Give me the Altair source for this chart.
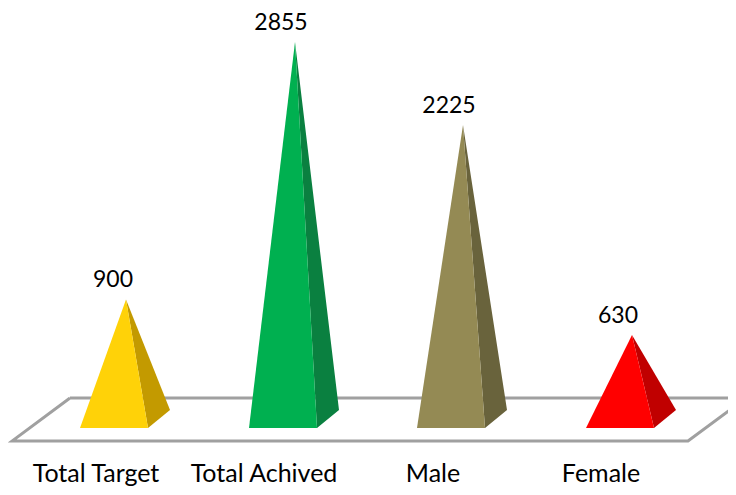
import altair as alt
import pandas as pd

categories = ["Total Target", "Total Achived", "Male", "Female"]
values = [900, 2855, 2225, 630]
apex_x = [126, 295, 463, 632]
label_x = [96, 264, 433, 601]
value_label_x = [113, 281, 449, 618]
front_colors = ["#FFD208", "#00B050", "#948A54", "#FF0000"]
side_colors = ["#C39A00", "#0A8040", "#69633C", "#C00000"]

BASE_FRONT = -76     # depth of the pyramid's front edge, in value units
BASE_BACK = 61       # depth of its back corner
LEFT, RIGHT, BACK = -46, 22, 44

front_rows, side_rows = [], []
for c, v, ax, fc, sc in zip(categories, values, apex_x, front_colors, side_colors):
    front_rows += [
        dict(c=c, x=ax + LEFT, y=BASE_FRONT, y2=BASE_FRONT, fill=fc),
        dict(c=c, x=ax, y=v, y2=BASE_FRONT, fill=fc),
        dict(c=c, x=ax + RIGHT, y=BASE_FRONT, y2=BASE_FRONT, fill=fc),
    ]
    upper_mid = v + (BASE_BACK - v) * RIGHT / BACK
    lower_mid = BASE_FRONT
    side_rows += [
        dict(c=c, x=ax, y=v, y2=v, fill=sc),
        dict(c=c, x=ax + RIGHT, y=upper_mid, y2=lower_mid, fill=sc),
        dict(c=c, x=ax + BACK, y=BASE_BACK, y2=BASE_BACK, fill=sc),
    ]

platform_x = [70, 746, 688, 12, 70]
platform_y = [152, 152, -175, -175, 152]
platform = pd.DataFrame({"x": platform_x, "y": platform_y, "o": range(5)})

x_scale = alt.Scale(domain=[8, 728], nice=False, zero=False)
y_scale = alt.Scale(domain=[-524, 3113], nice=False, zero=False)
X = alt.X("x:Q", scale=x_scale, axis=None)
Y = alt.Y("y:Q", scale=y_scale, axis=None, stack=None)

platform_layer = alt.Chart(platform).mark_line(
    color="#A0A0A0", strokeWidth=3, strokeJoin="miter", clip=True
).encode(x=X, y=Y, order="o:Q")


def faces(rows):
    return alt.Chart(pd.DataFrame(rows)).mark_area(
        orient="vertical", interpolate="linear"
    ).encode(
        x=X, y=Y, y2="y2:Q", detail="c:N",
        fill=alt.Fill("fill:N", scale=None),
    )


value_labels = alt.Chart(pd.DataFrame({
    "x": value_label_x, "y": values, "t": [str(v) for v in values]
})).mark_text(
    font="Lato", fontSize=23, color="#000000", baseline="alphabetic", align="center", dy=-12
).encode(x=X, y=Y, text="t:N")

cat_labels = alt.Chart(pd.DataFrame({"x": label_x, "t": categories})).mark_text(
    font="Lato", fontSize=25, color="#000000", baseline="alphabetic", align="center"
).encode(x=X, y=alt.value(474), text="t:N")

chart = alt.layer(
    platform_layer, faces(side_rows), faces(front_rows), value_labels, cat_labels
).properties(
    width=720, height=479, padding=0,
    autosize=alt.AutoSizeParams(type="none"),
).configure_view(stroke=None)

chart.save("out.html", embed_options={"renderer": "svg", "actions": False})
